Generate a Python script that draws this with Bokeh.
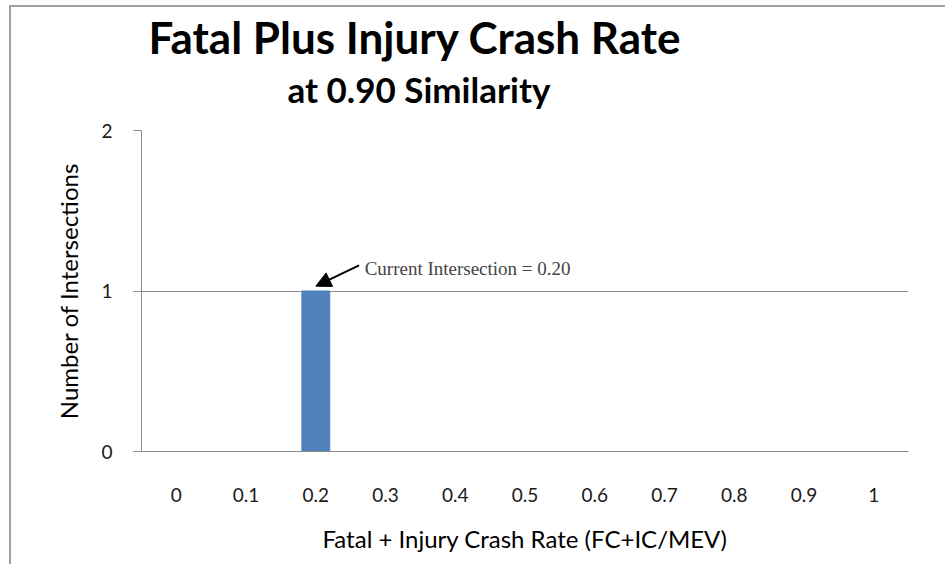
from bokeh.plotting import figure
from bokeh.models import FactorRange, Range1d, Title, Arrow, NormalHead, Label, FixedTicker
from bokeh.embed import file_html
from bokeh.resources import INLINE

# Data
categories = ["0", "0.1", "0.2", "0.3", "0.4", "0.5", "0.6", "0.7", "0.8", "0.9", "1"]
counts = [0, 0, 1, 0, 0, 0, 0, 0, 0, 0, 0]
y_ticks = [0, 1, 2]
current_value = "0.2"
annotation_text = "Current Intersection = 0.20"
title_text = "Fatal Plus Injury Crash Rate"
subtitle_text = "at 0.90 Similarity"
x_title = "Fatal + Injury Crash Rate (FC+IC/MEV)"
y_title = "Number of Intersections"

FONT = "Lato"
GRID = "#8c8c8c"

p = figure(x_range=FactorRange(*categories), y_range=Range1d(0, 2),
           width=936, height=559, output_backend="svg", toolbar_location=None,
           min_border_left=130, min_border_right=39, min_border_top=123, min_border_bottom=115)
p.margin = (5, 0, 0, 9)
p.outline_line_color = None
p.background_fill_color = "white"
p.border_fill_color = "white"
p.styles = {"border-left": "2px solid #a0a0a0", "border-top": "2px solid #a0a0a0"}

p.vbar(x=categories, top=counts, width=0.4, fill_color="#4F81BD", line_color="#4F81BD")

# axes
p.xaxis.axis_line_color = GRID
p.xaxis.major_tick_line_color = None
p.xaxis.minor_tick_line_color = None
p.xaxis.major_label_standoff = 30
p.xaxis.major_label_text_font = FONT
p.xaxis.major_label_text_font_size = "19px"
p.xaxis.major_label_text_color = "#1a1a1a"
p.xaxis.axis_label = x_title
p.xaxis.axis_label_text_font = FONT
p.xaxis.axis_label_text_font_size = "24px"
p.xaxis.axis_label_text_font_style = "normal"
p.xaxis.axis_label_text_color = "#000000"
p.xaxis.axis_label_standoff = 19

p.yaxis.ticker = FixedTicker(ticks=y_ticks)
p.yaxis.axis_line_color = GRID
p.yaxis.major_tick_line_color = GRID
p.yaxis.major_tick_in = 0
p.yaxis.major_tick_out = 8
p.yaxis.minor_tick_line_color = None
p.yaxis.major_label_standoff = 21
p.yaxis.major_label_text_font = FONT
p.yaxis.major_label_text_font_size = "19px"
p.yaxis.major_label_text_color = "#1a1a1a"
p.yaxis.axis_label = y_title
p.yaxis.axis_label_text_font = FONT
p.yaxis.axis_label_text_font_size = "24px"
p.yaxis.axis_label_text_font_style = "normal"
p.yaxis.axis_label_text_color = "#000000"
p.yaxis.axis_label_standoff = 15

p.xgrid.grid_line_color = None
p.ygrid.ticker = FixedTicker(ticks=y_ticks)
p.ygrid.grid_line_color = GRID

# titles
p.add_layout(Title(text=subtitle_text, text_font=FONT, text_font_size="35px",
                   text_font_style="bold", text_color="#000000",
                   align="left", offset=146, standoff=42), "above")
p.add_layout(Title(text=title_text, text_font=FONT, text_font_size="44px",
                   text_font_style="bold", text_color="#000000",
                   align="left", offset=7, standoff=-36), "above")

# annotation pointing at current bar
idx = categories.index(current_value)
cx = idx + 0.5
top = counts[idx]
p.add_layout(Arrow(end=NormalHead(size=15, fill_color="black", line_color="black"),
                   x_start=cx + 0.62, y_start=top + 0.16, x_end=cx + 0.0, y_end=top + 0.03,
                   line_color="black", line_width=2))
p.add_layout(Label(x=cx + 0.7, y=top + 0.14, text=annotation_text, text_font="Liberation Serif",
                   text_font_size="19px", text_baseline="middle"))

open("out.html", "w").write(file_html(p, INLINE))
